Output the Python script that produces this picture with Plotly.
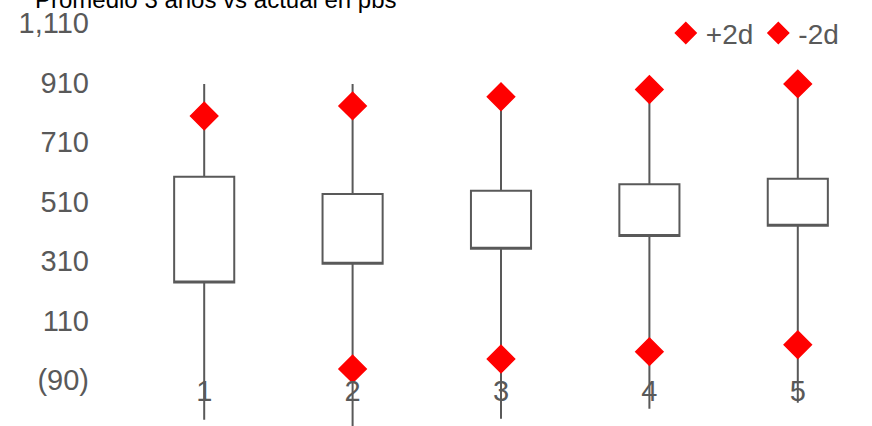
import plotly.graph_objects as go

categories = ["1", "2", "3", "4", "5"]
q1_vals = [237, 300, 351, 394, 428]
q3_vals = [593, 535, 546, 568, 586]
lower_vals = [-224, -252, -221, -187, -167]
upper_vals = [905, 905, 862, 886, 905]
plus2d = [797, 831, 862, 886, 905]
minus2d = [None, -53, -20, 5, 28]
y_ticks = [-90, 110, 310, 510, 710, 910, 1110]
y_tick_labels = ["(90)", "110", "310", "510", "710", "910", "1,110"]
title_text = "Promedio 3 años vs actual en pbs"

GREY = "#595959"
FONT = "Liberation Sans, Arial, sans-serif"

fig = go.Figure()
fig.add_trace(go.Box(
    x=categories, q1=q1_vals, median=q1_vals, q3=q3_vals,
    lowerfence=lower_vals, upperfence=upper_vals,
    width=0.405, whiskerwidth=0,
    fillcolor="white", line=dict(color=GREY, width=2),
    showlegend=False, hoverinfo="skip",
))
fig.add_trace(go.Scatter(
    x=categories, y=plus2d, mode="markers", name="+2d",
    marker=dict(symbol="diamond", size=21, color="#FF0000",
                line=dict(color="#FF0000", width=1.5)),
))
fig.add_trace(go.Scatter(
    x=categories, y=minus2d, mode="markers", name="-2d",
    marker=dict(symbol="diamond", size=21, color="#FF0000",
                line=dict(color="#FF0000", width=1.5)),
))

fig.update_layout(
    width=872, height=426,
    margin=dict(l=130, r=0, t=0, b=0),
    paper_bgcolor="white", plot_bgcolor="white",
    font=dict(family=FONT, color=GREY, size=29),
    showlegend=True,
    legend=dict(orientation="h", x=0.962, xanchor="right", y=0.922, yanchor="middle",
                font=dict(size=28, color=GREY), bgcolor="rgba(0,0,0,0)",
                itemsizing="trace", traceorder="normal"),
    xaxis=dict(type="category", categoryorder="array", categoryarray=categories,
               range=[-0.5, 4.5], showgrid=False, zeroline=False, showline=False,
               ticks="", anchor="free", position=0.13, automargin=False,
               tickfont=dict(size=29, color=GREY)),
    yaxis=dict(range=[-245, 1187], tickvals=y_ticks, ticktext=y_tick_labels,
               showgrid=False, zeroline=False, showline=False, ticks="",
               automargin=False, ticklabelstandoff=40,
               tickfont=dict(size=29, color=GREY)),
    annotations=[dict(text=title_text, xref="paper", yref="paper",
                      x=0.116, y=1.0023, xanchor="center", yanchor="middle",
                      showarrow=False, font=dict(size=24, color="black", family=FONT))],
)

fig.write_html("out.html", config={"displayModeBar": False},
               post_script="document.body.style.margin='0';document.body.style.overflow='hidden';")
